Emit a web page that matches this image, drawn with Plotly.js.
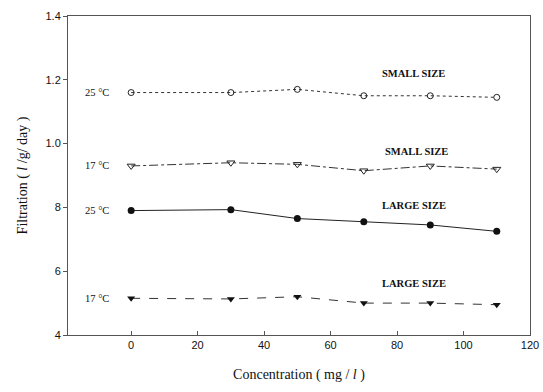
<!DOCTYPE html>
<html><head><meta charset="utf-8">
<script src="https://cdn.plot.ly/plotly-3.0.1.min.js"></script>
<style>body{margin:0;background:#fff}#c{width:543px;height:392px}</style>
</head><body><div id="c"></div>
<script>
const conc = [0, 30, 50, 70, 90, 110];
const small25 = [11.6, 11.6, 11.7, 11.5, 11.5, 11.45];
const small17 = [9.3, 9.4, 9.35, 9.15, 9.3, 9.2];
const large25 = [7.9, 7.93, 7.65, 7.55, 7.45, 7.25];
const large17 = [5.15, 5.13, 5.2, 5.0, 5.0, 4.95];
const yTickVals = [4, 6, 8, 10, 12, 14];
const yTickText = ["4", "6", "8", "1.0", "1.2", "1.4"];
const xTickVals = [0, 20, 40, 60, 80, 100, 120];

const c = '#111';
const traces = [
  {x: conc, y: small25, mode: 'lines+markers', line: {color: '#333', width: 1, dash: 'dot'},
   marker: {symbol: 'circle-open', size: 6, color: '#222', line: {width: 1}}},
  {x: conc, y: small17, mode: 'lines+markers', line: {color: '#333', width: 1, dash: 'dashdot'},
   marker: {symbol: 'triangle-down-open', size: 7, color: '#222', line: {width: 1}}},
  {x: conc, y: large25, mode: 'lines+markers', line: {color: '#222', width: 1},
   marker: {symbol: 'circle', size: 7, color: '#111'}},
  {x: conc, y: large17, mode: 'lines+markers', line: {color: '#333', width: 1, dash: 'dash'},
   marker: {symbol: 'triangle-down', size: 7, color: '#111'}}
];
const lf = {family: 'Liberation Serif, serif', size: 10.5, color: c};
const bf = {family: 'Liberation Serif, serif', size: 10.5, color: c, weight: 'bold'};
const ann = [
  {x: -6, y: small25[0], text: '25 °C', xanchor: 'right', showarrow: false, font: lf},
  {x: -6, y: small17[0], text: '17 °C', xanchor: 'right', showarrow: false, font: lf},
  {x: -6, y: large25[0], text: '25 °C', xanchor: 'right', showarrow: false, font: lf},
  {x: -6, y: large17[0], text: '17 °C', xanchor: 'right', showarrow: false, font: lf},
  {x: 85, y: 12.2, text: 'SMALL SIZE', showarrow: false, font: bf},
  {x: 86, y: 9.75, text: 'SMALL SIZE', showarrow: false, font: bf},
  {x: 85, y: 8.05, text: 'LARGE SIZE', showarrow: false, font: bf},
  {x: 85, y: 5.6, text: 'LARGE SIZE', showarrow: false, font: bf}
];
const layout = {
  width: 543, height: 392, showlegend: false,
  paper_bgcolor: '#fff', plot_bgcolor: '#fff',
  margin: {l: 68, r: 13, t: 16, b: 57},
  xaxis: {range: [-19, 120], tickvals: xTickVals, ticks: 'inside', ticklen: 4, tickcolor: '#555',
    showgrid: false, zeroline: false, showline: true, linecolor: '#555', linewidth: 1, mirror: true,
    tickfont: {family: 'Liberation Sans, Arial', size: 11, color: c},
    title: {text: 'Concentration ( mg / <i>l</i> )', font: {family: 'Liberation Serif, serif', size: 14, color: c}, standoff: 18}},
  yaxis: {range: [4, 14], tickvals: yTickVals, ticktext: yTickText, ticks: 'outside', ticklen: 4, tickcolor: '#555',
    showgrid: false, zeroline: false, showline: true, linecolor: '#555', linewidth: 1, mirror: true,
    tickfont: {family: 'Liberation Sans, Arial', size: 11, color: c},
    title: {text: 'Filtration ( <i>l</i> /g/ day )', font: {family: 'Liberation Serif, serif', size: 14, color: c}, standoff: 14}},
  annotations: ann
};
Plotly.newPlot('c', traces, layout, {displayModeBar: false, staticPlot: true});
</script></body></html>
